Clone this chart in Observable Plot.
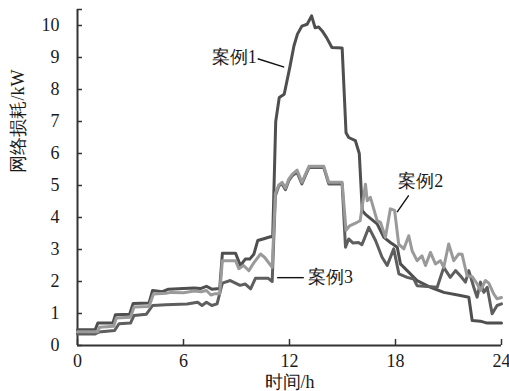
<!DOCTYPE html>
<html><head><meta charset="utf-8">
<script src="https://cdn.jsdelivr.net/npm/d3@7"></script>
<script src="https://cdn.jsdelivr.net/npm/@observablehq/plot@0.6"></script>
<style>html,body{margin:0;padding:0;background:#fff;} #chart svg, #chart svg text{font-family:'Liberation Serif', serif !important;}</style>
</head><body><div id="chart"></div>
<script>
// Time (h) and network loss (kW) per case
const case1T = [0,1.0,1.15,2.0,2.15,2.95,3.15,4.05,4.25,4.8,5.15,6.0,6.6,6.95,7.3,7.6,8.05,8.2,8.95,9.22,9.5,9.75,9.98,10.2,10.5,10.92,11.05,11.22,11.42,11.7,12.02,12.25,12.45,12.7,13.0,13.25,13.45,13.65,13.85,14.1,14.4,14.98,15.2,15.35,15.73,15.95,16.12,16.3,16.96,17.34,17.71,18.1,18.28,18.66,19.22,19.98,20.73,21.67,22.15,22.34,22.8,23.19,24];
const case1V = [0.49,0.49,0.7,0.7,0.96,0.98,1.31,1.33,1.72,1.68,1.76,1.78,1.8,1.78,1.85,1.76,1.78,2.88,2.88,2.5,2.7,2.7,2.85,3.28,3.33,3.4,3.4,7.0,7.75,7.85,8.7,9.36,9.73,9.98,10.04,10.3,9.93,9.95,9.83,9.62,9.31,9.3,6.65,6.5,6.4,6.0,4.21,4.1,3.8,3.38,3.22,3.07,2.55,2.34,2.03,1.82,1.66,1.56,1.51,0.78,0.76,0.7,0.7];

const case2T = [0,1.15,1.25,2.05,2.2,3.0,3.2,4.05,4.3,5.0,5.3,6.0,6.6,7.0,7.3,7.55,7.8,8.05,8.2,8.95,9.13,9.4,9.7,10.0,10.36,10.6,11.02,11.2,11.4,11.58,11.77,11.96,12.15,12.43,12.7,13.1,13.94,14.22,14.98,15.2,15.4,15.83,16.0,16.3,16.4,16.58,16.96,17.15,17.43,17.71,17.95,18.18,18.47,18.75,18.94,19.22,19.5,19.7,19.98,20.26,20.54,20.73,21.01,21.3,21.58,21.77,22.05,22.34,22.62,22.81,23.09,23.28,23.56,23.75,24];
const case2V = [0.43,0.43,0.57,0.6,0.86,0.88,1.2,1.22,1.61,1.63,1.66,1.65,1.7,1.68,1.72,1.58,1.62,1.62,2.65,2.65,2.4,2.5,2.34,2.6,2.86,2.75,2.44,4.75,5.02,5.1,4.92,5.2,5.35,5.48,5.1,5.6,5.6,5.1,5.1,3.6,3.74,3.85,3.9,5.04,4.52,4.63,3.9,3.85,3.38,4.27,4.22,3.17,3.02,3.43,2.96,2.65,2.8,2.5,2.91,2.55,2.65,2.44,3.17,2.65,2.86,2.85,2.18,2.15,1.93,1.72,2.03,1.95,1.61,1.46,1.5];

const case3T = [0,1.0,1.2,2.1,2.35,3.0,3.2,3.9,4.25,5.0,6.2,6.8,7.05,7.3,7.6,7.9,8.2,8.65,9.2,9.5,9.8,10.07,10.8,11.02,11.2,11.4,11.58,11.77,11.96,12.15,12.43,12.7,13.1,13.94,14.22,14.98,15.17,15.35,15.6,15.9,16.1,16.49,16.87,17.24,17.53,17.9,18.19,18.66,19.03,19.22,20.36,20.73,21.1,21.4,21.67,21.96,22.15,22.43,22.62,22.81,23.0,23.19,23.47,23.75,24];
const case3V = [0.36,0.36,0.42,0.47,0.68,0.7,0.94,0.98,1.25,1.27,1.3,1.35,1.25,1.35,1.25,1.3,1.95,2.03,1.88,1.92,1.77,2.1,2.1,2.0,4.68,4.99,5.05,4.87,5.15,5.3,5.41,5.05,5.56,5.56,5.05,5.05,3.07,3.33,3.2,3.22,3.15,3.69,3.28,2.76,2.5,3.02,2.24,2.13,2.08,1.87,1.82,2.44,2.13,2.34,2.18,1.98,2.34,1.82,1.51,1.98,1.66,1.82,0.99,1.25,1.3];

const seriesNames = ["案例1", "案例2", "案例3"];
const xTicks = [0, 6, 12, 18, 24];
const yTicks = [0, 1, 2, 3, 4, 5, 6, 7, 8, 9, 10];
const xTitle = "时间/h";
const yTitle = "网络损耗/kW";

const rows = (T, V) => T.map((t, i) => ({t, v: V[i]}));
const lineStyle = {x: "t", y: "v", strokeWidth: 3, strokeLinejoin: "round", strokeLinecap: "round"};
const font = "'Liberation Serif', serif";

const chart = Plot.plot({
  width: 509, height: 391,
  marginLeft: 77, marginRight: 8, marginTop: 9, marginBottom: 46,
  style: {fontFamily: font, fontSize: "18px", color: "#1a1a1a", background: "#fff"},
  x: {domain: [0, 24]},
  y: {domain: [0, 10.5]},
  marks: [
    Plot.axisX({ticks: xTicks, tickSize: -6, tickPadding: 15, label: null, stroke: "#333", strokeWidth: 1.5, fill: "#1a1a1a", fontFamily: font}),
    Plot.axisY({ticks: [...yTicks, 10.5], tickFormat: d => d === 10.5 ? "" : String(d), tickSize: -5, tickPadding: 23, label: null, stroke: "#333", strokeWidth: 1.5, fill: "#1a1a1a", fontFamily: font}),
    Plot.ruleX([0], {stroke: "#333", strokeWidth: 2}),
    Plot.ruleY([0], {stroke: "#333", strokeWidth: 2}),
    Plot.line(rows(case1T, case1V), {...lineStyle, stroke: "#4f4f4f"}),
    Plot.line(rows(case3T, case3V), {...lineStyle, stroke: "#5e5e5e"}),
    Plot.line(rows(case2T, case2V), {...lineStyle, stroke: "#9a9a9a"}),
    // annotations
    Plot.text([seriesNames[0]], {x: 10.15, y: 9.0, text: d => d, textAnchor: "end", fontSize: 18, fill: "#1a1a1a", fontFamily: font}),
    Plot.link([0], {x1: 10.2, y1: 8.96, x2: 11.7, y2: 8.7, stroke: "#111", strokeWidth: 1.4}),
    Plot.text([seriesNames[1]], {x: 18.15, y: 5.12, text: d => d, textAnchor: "start", fontSize: 18, fill: "#1a1a1a", fontFamily: font}),
    Plot.link([0], {x1: 18.75, y1: 4.69, x2: 18.09, y2: 4.17, stroke: "#111", strokeWidth: 1.4}),
    Plot.text([seriesNames[2]], {x: 13.05, y: 2.12, text: d => d, textAnchor: "start", fontSize: 18, fill: "#1a1a1a", fontFamily: font}),
    Plot.link([0], {x1: 11.3, y1: 2.12, x2: 12.81, y2: 2.12, stroke: "#111", strokeWidth: 1.4}),
    // axis titles
    Plot.text([xTitle], {frameAnchor: "bottom", dy: 37, text: d => d, lineAnchor: "middle", fontSize: 18, fill: "#1a1a1a", fontFamily: font}),
    Plot.text([yTitle], {frameAnchor: "left", dx: -59, dy: -5, rotate: -90, text: d => d, lineAnchor: "middle", fontSize: 18, fill: "#1a1a1a", fontFamily: font})
  ]
});
document.getElementById("chart").appendChild(chart);
</script>
</body></html>
